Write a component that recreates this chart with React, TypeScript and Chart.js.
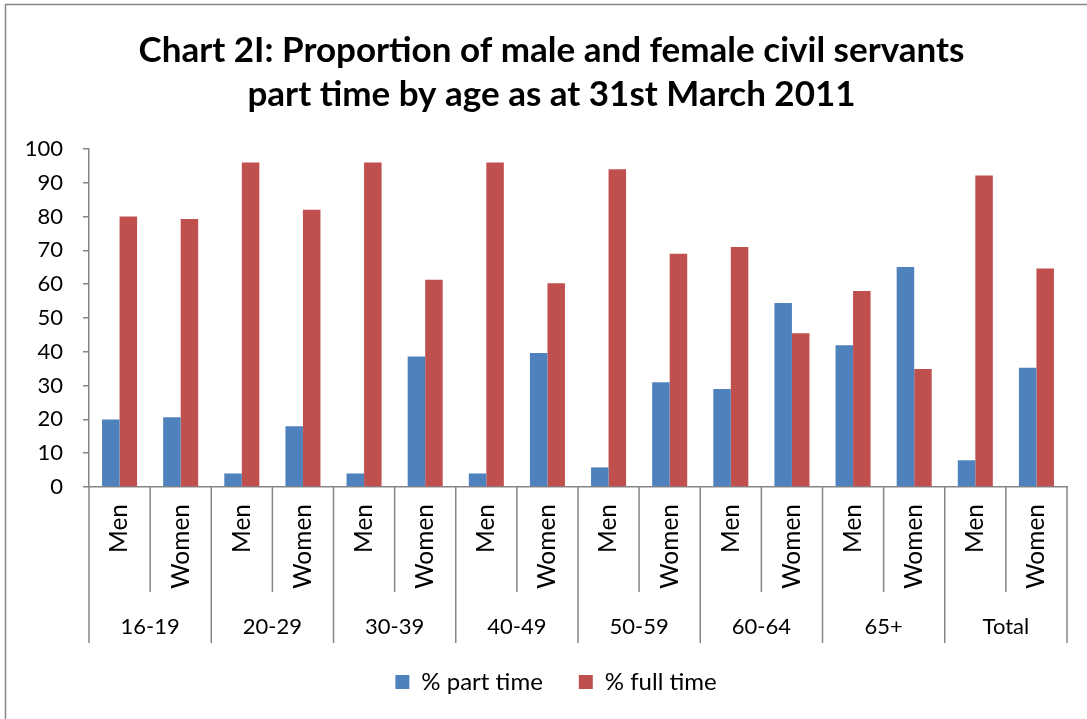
import React, { useEffect, useRef } from "react";
import { Chart, registerables } from "chart.js";

Chart.register(...registerables);

const titleLines = [
  "Chart 2I: Proportion of male and female civil servants",
  "part time by age as at 31st March 2011",
];
const sexes = ["Men", "Women"];
const ageGroups = ["16-19", "20-29", "30-39", "40-49", "50-59", "60-64", "65+", "Total"];
const partTime = [20, 20.6, 4, 18, 4, 38.6, 4, 39.6, 5.8, 31, 29, 54.4, 41.9, 65.1, 7.9, 35.3];
const fullTime = [80, 79.3, 96, 82, 96, 61.3, 96, 60.3, 94, 69, 71, 45.5, 58, 34.9, 92.1, 64.6];
const seriesNames = ["% part time", "% full time"];
const yTicks = { min: 0, max: 100, step: 10 };

const FONT = "Lato";
const AXIS_COLOR = "#868686";

const groupAxisPlugin = {
  id: "groupAxis",
  afterLayout(chart: any) {
    // centre title and legend like the reference
    if (chart.titleBlock) chart.titleBlock.left += 26;
    if (chart.legend) chart.legend.left += 35;
  },
  afterDraw(chart: any) {
    const { ctx, chartArea, scales } = chart;
    const x = scales.x;
    const n = chart.data.labels.length;
    const y0 = chartArea.bottom;
    ctx.save();
    ctx.strokeStyle = AXIS_COLOR;
    ctx.lineWidth = 1.5;
    for (let i = 0; i <= n; i++) {
      let xp: number;
      if (i === 0) xp = x.left;
      else if (i === n) xp = x.right;
      else xp = (x.getPixelForValue(i - 1) + x.getPixelForValue(i)) / 2;
      const end = i % sexes.length === 0 ? y0 + 156 : y0 + 105;
      ctx.beginPath();
      ctx.moveTo(xp, y0);
      ctx.lineTo(xp, end);
      ctx.stroke();
    }
    ctx.fillStyle = "#000";
    ctx.font = `22px ${FONT}`;
    ctx.textAlign = "center";
    ctx.textBaseline = "middle";
    ageGroups.forEach((g, gi) => {
      const a = x.getPixelForValue(gi * 2);
      const b = x.getPixelForValue(gi * 2 + 1);
      ctx.fillText(g, (a + b) / 2, y0 + 140);
    });
    // outer chart border
    ctx.strokeStyle = AXIS_COLOR;
    ctx.lineWidth = 1.5;
    ctx.strokeRect(5.5, 4.5, chart.width + 20, chart.height + 20);
    ctx.restore();
  },
};

export default function App() {
  const ref = useRef<HTMLCanvasElement | null>(null);
  useEffect(() => {
    if (!ref.current) return;
    const labels = ageGroups.flatMap(() => sexes);
    const chart = new Chart(ref.current, {
      type: "bar",
      data: {
        labels,
        datasets: [
          {
            label: seriesNames[0],
            data: partTime,
            backgroundColor: "#4F81BD",
            categoryPercentage: 0.573,
            barPercentage: 1,
          },
          {
            label: seriesNames[1],
            data: fullTime,
            backgroundColor: "#C0504D",
            categoryPercentage: 0.573,
            barPercentage: 1,
          },
        ],
      },
      options: {
        animation: false,
        responsive: true,
        maintainAspectRatio: false,
        layout: { padding: { top: 0, left: 10, right: 20, bottom: 15 } },
        plugins: {
          title: {
            display: true,
            text: titleLines,
            color: "#000",
            font: { family: FONT, size: 35, weight: "bold", lineHeight: 1.27 },
            padding: { top: 28, bottom: 32 },
          },
          legend: {
            position: "bottom",
            labels: {
              color: "#000",
              font: { family: FONT, size: 24 },
              boxWidth: 14,
              boxHeight: 14,
              padding: 36,
            },
          },
          tooltip: { enabled: false },
        },
        scales: {
          x: {
            afterFit: (s: any) => {
              s.height = 147;
            },
            grid: { display: false, drawTicks: false },
            border: { display: true, color: AXIS_COLOR, width: 1.5 },
            ticks: {
              color: "#000",
              font: { family: FONT, size: 24.5 },
              minRotation: 90,
              maxRotation: 90,
              autoSkip: false,
              padding: 17,
            },
          },
          y: {
            min: yTicks.min,
            max: yTicks.max,
            afterFit: (s: any) => {
              s.width = 79;
            },
            grid: {
              drawOnChartArea: false,
              drawTicks: true,
              tickLength: 6,
              color: AXIS_COLOR,
              lineWidth: 1.5,
            },
            border: { display: true, color: AXIS_COLOR, width: 1.5 },
            ticks: {
              stepSize: yTicks.step,
              color: "#000",
              font: { family: FONT, size: 22 },
              padding: 20,
            },
          },
        },
      },
      plugins: [groupAxisPlugin],
    });
    return () => chart.destroy();
  }, []);
  return (
    <div style={{ position: "fixed", left: 0, top: 0, width: 1087, height: 719, background: "#fff" }}>
      <canvas ref={ref} />
    </div>
  );
}
